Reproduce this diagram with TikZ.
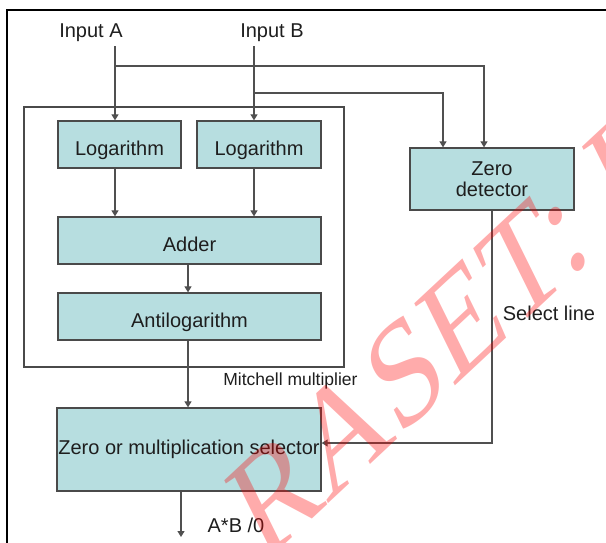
\documentclass[tikz,border=0pt]{standalone}
\usepackage{fontspec}
\setmainfont{Liberation Sans}
\newfontfamily\wmfont{Liberation Serif}
\usetikzlibrary{arrows.meta}
\definecolor{boxfill}{HTML}{B7DEE0}
\definecolor{boxline}{HTML}{4A4A4A}
\definecolor{wirec}{HTML}{505050}
\definecolor{txt}{HTML}{1E1E1E}
\begin{document}
\begin{tikzpicture}[x=1pt,y=-1pt,
  blk/.style={draw=boxline, fill=boxfill, line width=1.3pt, inner sep=0pt,
    font=\fontsize{20}{24}\selectfont, text=txt},
  mblk/.style={blk, text height=22pt, text depth=0pt},
  wire/.style={draw=wirec, line width=1.2pt},
  arr/.style={wire, -{Triangle[width=7pt,length=6pt]}},
  lbl/.style={font=\fontsize{20}{24}\selectfont, text=txt, inner sep=0pt}]
\useasboundingbox (0,0) rectangle (606,542);
\clip (0,0) rectangle (606,542);
% outer frame
\draw[black, line width=1.4pt] (7,548) -- (7,10) -- (612,10);
% Mitchell frame
\node[draw=boxline, line width=1.2pt, minimum width=320pt, minimum height=260pt, inner sep=0pt] (mitch) at (184,237) {};
% blocks
\node[mblk, minimum width=123pt, minimum height=47pt] (log1) at (119.5,144.5) {Logarithm};
\node[mblk, minimum width=124pt, minimum height=47pt] (log2) at (259,144.5) {Logarithm};
\node[mblk, minimum width=263pt, minimum height=47pt] (adder) at (189.5,240.5) {Adder};
\node[mblk, minimum width=263pt, minimum height=47pt] (antilog) at (189.5,316.5) {Antilogarithm};
\node[blk, minimum width=164pt, minimum height=62pt, align=center,
  font=\fontsize{20}{21}\selectfont] (zd) at (492,179) {Zero\\detector};
\node[blk, minimum width=264pt, minimum height=83pt] (sel) at (189,449.5) {Zero or multiplication selector};
% labels
\node[lbl] (inA) at (91,33) {Input A};
\node[lbl] (inB) at (272,33) {Input B};
\node[lbl, font=\fontsize{17.5}{20}\selectfont] (mlab) at (290.5,381) {Mitchell multiplier};
\node[lbl] (slab) at (549,313) {Select line};
\node[lbl] (olab) at (236,525) {A*B /0};
% connectors
\coordinate (a0) at (115,46);
\coordinate (b0) at (254,46);
\coordinate (ja) at (115,66);
\coordinate (jb) at (254,93);
\coordinate (zdA) at (484,66);
\coordinate (zdB) at (443,93);
\coordinate (mx) at (188,0);
\coordinate (sl) at (492,443);
\coordinate (out) at (181,537);
\draw[arr] (a0) -- (a0 |- log1.north);
\draw[arr] (b0) -- (b0 |- log2.north);
\draw[arr] (ja) -- (zdA) -- (zdA |- zd.north);
\draw[arr] (jb) -- (zdB) -- (zdB |- zd.north);
\draw[arr] (a0 |- log1.south) -- (a0 |- adder.north);
\draw[arr] (b0 |- log2.south) -- (b0 |- adder.north);
\draw[arr] (mx |- adder.south) -- (mx |- antilog.north);
\draw[arr] (mx |- antilog.south) -- (mx |- sel.north);
\draw[arr] (zd.south) -- (sl) -- (sl -| sel.east);
\draw[arr] (out |- sel.south) -- (out);
% watermark
\node[rotate=43, xslant=0.3, anchor=base west, inner sep=0pt, text=red, opacity=0.33,
  font=\wmfont\fontsize{134}{134}\selectfont] (wm) at (262,566) {RASET: I};
\end{tikzpicture}
\end{document}
